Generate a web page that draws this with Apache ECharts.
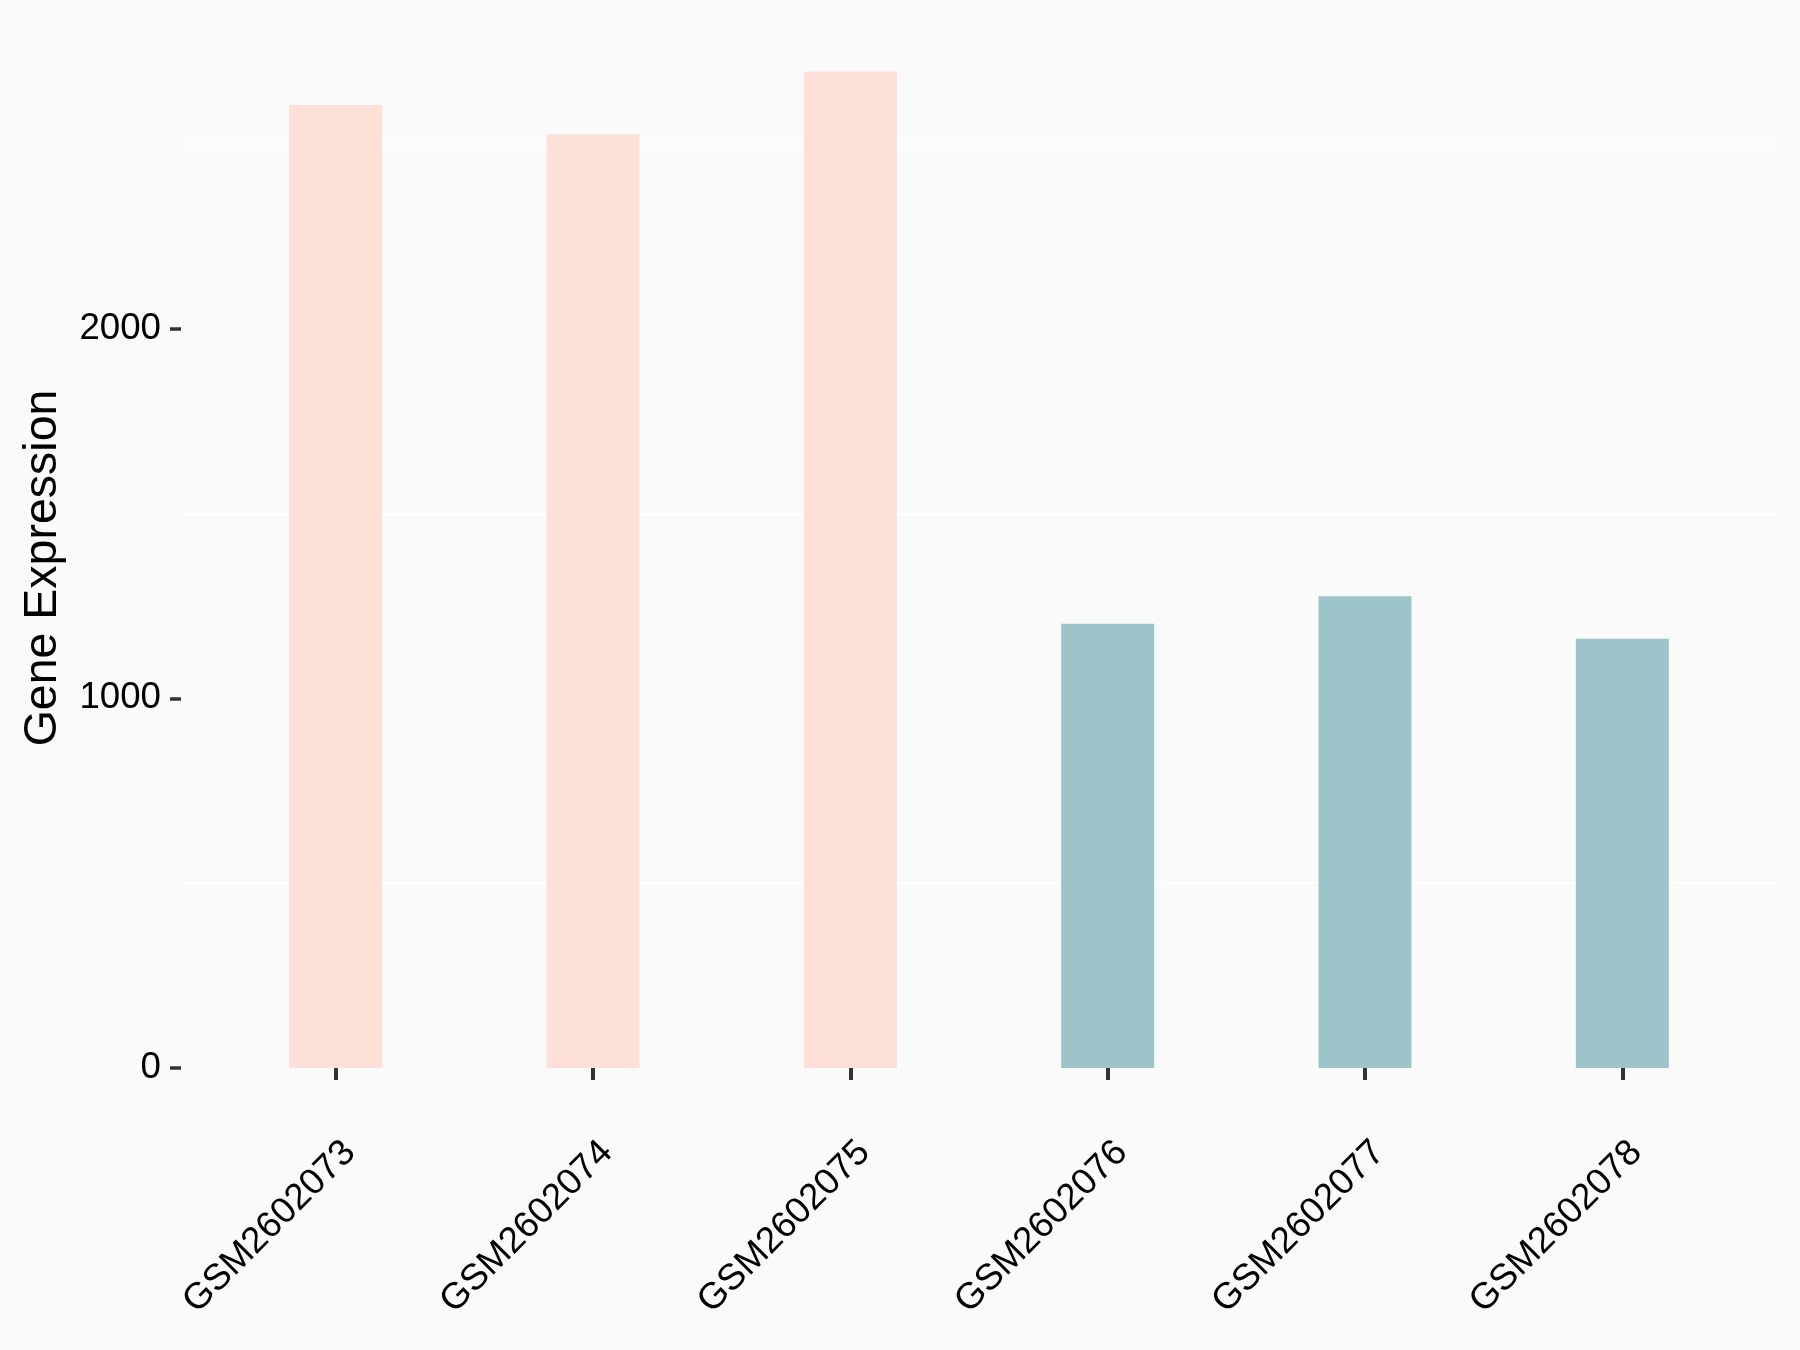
<!DOCTYPE html>
<html>
<head>
<meta charset="utf-8">
<script src="https://cdn.jsdelivr.net/npm/echarts@6/dist/echarts.min.js"></script>
<style>
  html, body { margin: 0; padding: 0; background: #fafafa; }
  #chart { width: 1800px; height: 1350px; }
</style>
</head>
<body>
<div id="chart"></div>
<script>
// samples on the x axis
const samples = ["GSM2602073", "GSM2602074", "GSM2602075", "GSM2602076", "GSM2602077", "GSM2602078"];
// expression value per sample
const expression = [2605, 2525, 2696, 1202, 1276, 1161];
// which group each sample belongs to
const groups = ["group1", "group1", "group1", "group2", "group2", "group2"];
const yTickLabels = [0, 1000, 2000];

const groupColors = { group1: "#fde0d7", group2: "#9dc4c8" };
const font = "Liberation Sans, Arial, sans-serif";

let chart = echarts.init(document.getElementById("chart"));

let option = {
    backgroundColor: "#fafafa",
    animation: false,
    grid: [
        // bars: category bands sized like the ggplot discrete scale
        { left: 207, right: 49, top: 20, bottom: 282 },
        // full panel width, only for the faint gridlines
        { left: 181, right: 23, top: 20, bottom: 282 },
        // same bands nudged right, only for the rotated sample names
        { left: 221, right: 35, top: 20, bottom: 282 }
    ],
    xAxis: [
        {
            type: "category",
            gridIndex: 0,
            data: samples,
            offset: 49,
            axisLine: { show: false },
            axisTick: {
                show: true,
                alignWithLabel: true,
                length: 12,
                lineStyle: { color: "#333333", width: 4 }
            },
            axisLabel: { show: false },
            splitLine: { show: false }
        },
        {
            type: "value",
            gridIndex: 1,
            show: false
        },
        {
            type: "category",
            gridIndex: 2,
            data: samples,
            offset: 49,
            axisLine: { show: false },
            axisTick: { show: false },
            axisLabel: {
                rotate: 45,
                margin: 30,
                interval: 0,
                color: "#000000",
                fontFamily: font,
                fontSize: 36.7
            },
            splitLine: { show: false }
        }
    ],
    yAxis: [
        {
            type: "value",
            gridIndex: 0,
            min: 0,
            max: 2835,
            interval: 500,
            offset: 26,
            axisLine: { show: false },
            axisTick: {
                show: true,
                length: 11,
                customValues: yTickLabels,
                lineStyle: { color: "#333333", width: 3.5 }
            },
            axisLabel: {
                margin: 20,
                customValues: yTickLabels,
                formatter: v => String(v),
                color: "#000000",
                fontFamily: font,
                fontSize: 36.7
            },
            splitLine: { show: false }
        },
        {
            type: "value",
            gridIndex: 1,
            min: 0,
            max: 2835,
            interval: 500,
            axisLine: { show: false },
            axisTick: { show: false },
            axisLabel: { show: false },
            splitLine: {
                show: true,
                lineStyle: {
                    // major lines blend into the background, minor ones are white
                    color: ["rgba(0,0,0,0)", "#ffffff"],
                    width: 2
                }
            }
        },
        {
            type: "value",
            gridIndex: 2,
            show: false
        }
    ],
    graphic: [
        {
            type: "text",
            rotation: Math.PI / 2,
            x: 43,
            y: 568,
            style: {
                text: "Gene Expression",
                font: "46.5px " + font,
                fill: "#000000",
                textAlign: "center",
                textVerticalAlign: "middle"
            }
        }
    ],
    series: [
        {
            type: "bar",
            xAxisIndex: 0,
            yAxisIndex: 0,
            barWidth: 93,
            data: expression.map((v, i) => ({
                value: v,
                itemStyle: { color: groupColors[groups[i]] }
            }))
        }
    ]
};
chart.setOption(option);
</script>
</body>
</html>
